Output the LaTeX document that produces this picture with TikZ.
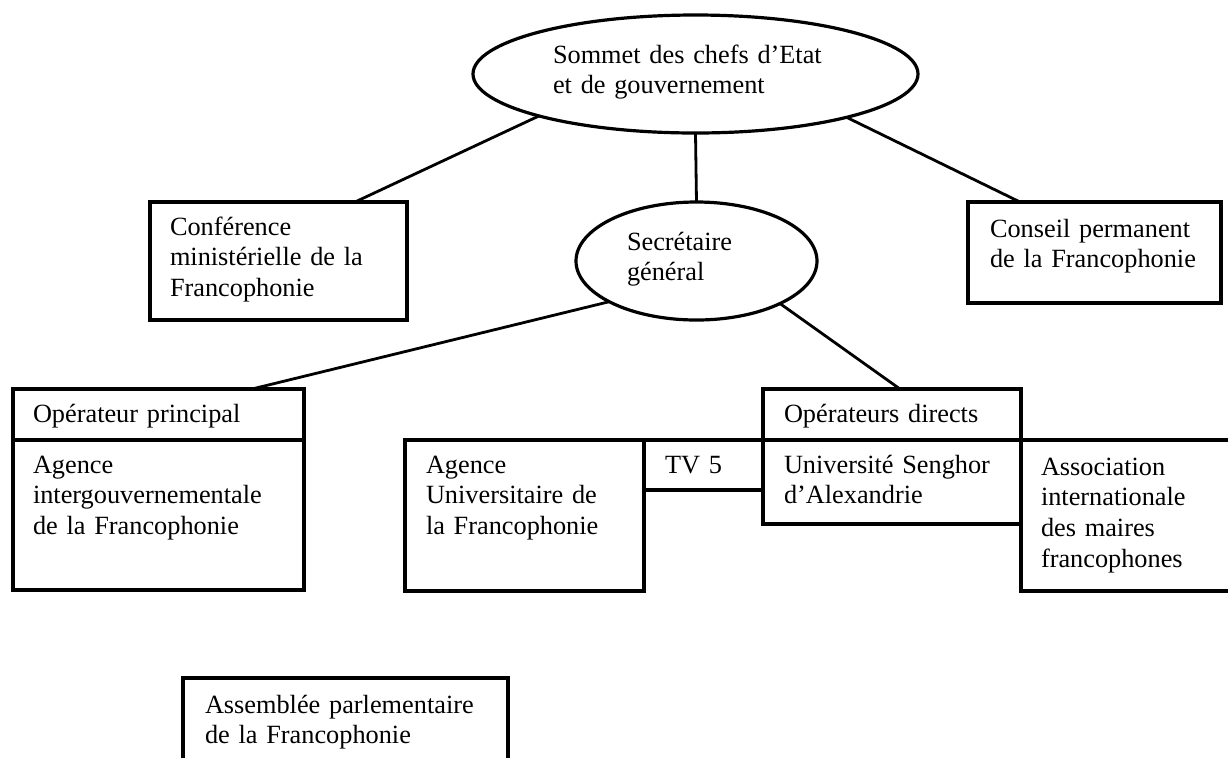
\documentclass[tikz,border=0pt]{standalone}
\usepackage{fontspec}
\setmainfont{Liberation Serif}
\usetikzlibrary{shapes.geometric}
\begin{document}
\begin{tikzpicture}[x=0.5pt,y=-0.5pt,
  box/.style={draw, line width=1.6pt, rectangle, anchor=north west, inner sep=0pt, outer sep=0pt},
  oval/.style={draw, line width=1.6pt, ellipse, inner sep=0pt, outer sep=0pt},
  txt/.style={inner sep=0pt, outer sep=0pt, anchor=base west, align=left, text width=160pt, font=\fontsize{13.15}{15.4}\selectfont},
  link/.style={line width=1.4pt}]
\path[use as bounding box, clip] (0,0) rectangle (1228,757);
\fill[white] (0,0) rectangle (1228,757);
% ellipses
\node[oval, minimum width=222.5pt, minimum height=59pt] (som) at (695.5,74) {};
\node[oval, minimum width=120.5pt, minimum height=59pt] (sec) at (696.5,261) {};
% boxes
\node[box, minimum width=128.5pt, minimum height=59pt] (conf) at (150,202) {};
\node[box, minimum width=126.5pt, minimum height=50.5pt] (cons) at (968,202) {};
\node[box, minimum width=145.5pt, minimum height=25.5pt] (opph) at (13,389) {};
\node[box, minimum width=145.5pt, minimum height=75pt] (oppb) at (13,440) {};
\node[box, minimum width=119.5pt, minimum height=75.5pt] (aun) at (405,440) {};
\node[box, minimum width=59.5pt, minimum height=25pt] (tv) at (644,440) {};
\node[box, minimum width=129pt, minimum height=25.5pt] (opdh) at (763,389) {};
\node[box, minimum width=129pt, minimum height=42pt] (sen) at (763,440) {};
\node[box, minimum width=115pt, minimum height=75.5pt] (aim) at (1021,440) {};
\node[box, minimum width=162.5pt, minimum height=50pt] (apf) at (183,678) {};
% connectors
\draw[link] (som.195.5) -- ([xshift=-26pt]conf.north east);
\draw[link] (som.south) -- (sec.north);
\draw[link] (som.344.5) -- ([xshift=26pt]cons.north west);
\draw[link] (sec.205.9) -- ([xshift=-26pt]opph.north east);
\draw[link] (sec.333.8) -- ([xshift=68.5pt]opdh.north west);
% texts
\node[txt] (somT) at (553,63) {Sommet des chefs d’Etat\\et de gouvernement};
\node[txt] (secT) at (627,250) {Secrétaire\\général};
\node[txt] (confT) at (170,235) {Conférence\\ministérielle de la\\Francophonie};
\node[txt] (consT) at (990,237) {Conseil permanent\\de la Francophonie};
\node[txt] (opphT) at (33,422) {Opérateur principal};
\node[txt] (oppbT) at (33,473) {Agence\\intergouvernementale\\de la Francophonie};
\node[txt] (aunT) at (426,473) {Agence\\Universitaire de\\la Francophonie};
\node[txt] (tvT) at (665,473) {TV 5};
\node[txt] (opdhT) at (784,422) {Opérateurs directs};
\node[txt] (senT) at (784,473) {Université Senghor\\d’Alexandrie};
\node[txt] (aimT) at (1041,475) {Association\\internationale\\des maires\\francophones};
\node[txt] (apfT) at (205,713) {Assemblée parlementaire\\de la Francophonie};
\end{tikzpicture}
\end{document}
